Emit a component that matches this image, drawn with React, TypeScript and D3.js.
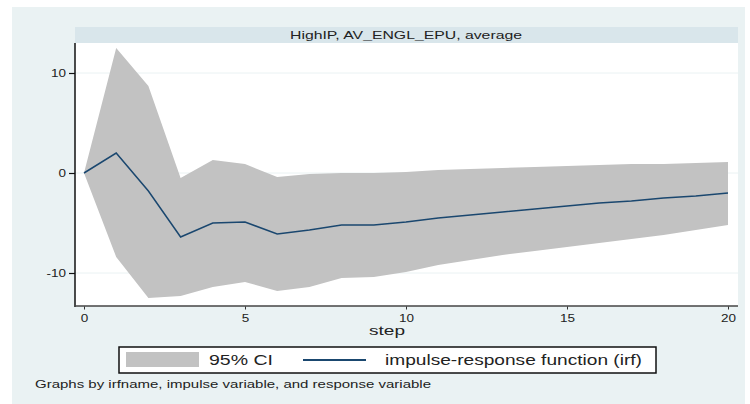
import { useEffect, useRef } from "react";
import { select, scaleLinear, area, line, axisLeft, axisBottom } from "d3";

const W = 750;
const H = 404;

// impulse-response values
const steps = [0, 1, 2, 3, 4, 5, 6, 7, 8, 9, 10, 11, 12, 13, 14, 15, 16, 17, 18, 19, 20];
const irf = [0, 2.0, -1.8, -6.4, -5.0, -4.9, -6.1, -5.7, -5.2, -5.2, -4.9, -4.5, -4.2, -3.9, -3.6, -3.3, -3.0, -2.8, -2.5, -2.3, -2.0];
const ciUpper = [0, 12.5, 8.7, -0.5, 1.3, 0.9, -0.4, -0.1, 0.0, 0.0, 0.1, 0.3, 0.4, 0.5, 0.6, 0.7, 0.8, 0.9, 0.9, 1.0, 1.1];
const ciLower = [0, -8.4, -12.5, -12.3, -11.4, -10.9, -11.8, -11.4, -10.5, -10.4, -9.9, -9.2, -8.7, -8.2, -7.8, -7.4, -7.0, -6.6, -6.2, -5.7, -5.2];

const yTicks = [-10, 0, 10];
const xTicks = [0, 5, 10, 15, 20];

const panelTitle = "HighIP, AV_ENGL_EPU, average";
const xTitle = "step";
const legendCI = "95% CI";
const legendIrf = "impulse-response function (irf)";
const note = "Graphs by irfname, impulse variable, and response variable";

const font = "'Liberation Sans', Arial, Helvetica, sans-serif";

const plot = { left: 75, right: 738, top: 43, bottom: 306 };

const App = () => {
  const svgRef = useRef<SVGSVGElement>(null);

  const xScale = scaleLinear().domain([0, 20]).range([84, 728]);
  const yScale = scaleLinear().domain([-10, 10]).range([273, 73]);

  const band = area<number>()
    .x((d, i) => xScale(steps[i]))
    .y0((d, i) => yScale(ciLower[i]))
    .y1((d) => yScale(d));

  const irfLine = line<number>()
    .x((d, i) => xScale(steps[i]))
    .y((d) => yScale(d));

  useEffect(() => {
    const svg = select(svgRef.current);

    // plain hyphen for negatives, like the original
    const yAxis = axisLeft(yScale)
      .tickValues(yTicks)
      .tickFormat((v) => String(v))
      .tickSize(6)
      .tickPadding(3)
      .tickSizeOuter(0);
    const xAxis = axisBottom(xScale).tickValues(xTicks).tickSize(3).tickPadding(5).tickSizeOuter(0);

    svg.select<SVGGElement>(".y-axis").call(yAxis);
    svg.select<SVGGElement>(".x-axis").call(xAxis);

    svg.selectAll(".y-axis .domain, .x-axis .domain").remove();
    svg
      .selectAll(".y-axis text, .x-axis text")
      .attr("font-family", font)
      .attr("font-size", 10)
      .attr("fill", "#222")
      .attr("class", "sx");
    svg.selectAll(".y-axis line").attr("stroke", "#111").attr("stroke-width", 1.2);
    svg.selectAll(".x-axis line").attr("stroke", "#333");

    // the original picture is horizontally stretched, so widen the tick labels
    svg.selectAll<SVGTextElement, unknown>("text.sx").each(function () {
      this.removeAttribute("textLength");
      const len = this.getComputedTextLength();
      this.setAttribute("textLength", String(len * 1.35));
      this.setAttribute("lengthAdjust", "spacingAndGlyphs");
    });
  }, []);

  return (
    <svg
      ref={svgRef}
      width={W}
      height={H}
      style={{ position: "absolute", left: 0, top: 0, background: "#fff" }}
    >
      <rect x={12} y={7} width={733} height={397} fill="#eaf2f3" />

      {/* panel title strip */}
      <rect x={plot.left} y={27} width={plot.right - plot.left} height={16} fill="#d9e6eb" />
      <text
        x={406}
        y={38.5}
        textAnchor="middle"
        fontFamily={font}
        fontSize={11}
        fill="#222"
        textLength={232}
        lengthAdjust="spacingAndGlyphs"
      >
        {panelTitle}
      </text>

      {/* plot region */}
      <rect x={plot.left} y={plot.top} width={plot.right - plot.left} height={plot.bottom - plot.top} fill="#fff" />
      {yTicks.map((t) => (
        <line key={t} x1={plot.left} x2={plot.right} y1={yScale(t)} y2={yScale(t)} stroke="#eaf2f3" strokeWidth={1} />
      ))}

      <path d={band(ciUpper) ?? ""} fill="#c2c2c2" />
      <path d={irfLine(irf) ?? ""} fill="none" stroke="#1a476f" strokeWidth={1.5} />

      <line x1={plot.left} x2={plot.left} y1={plot.top} y2={plot.bottom + 1} stroke="#111" strokeWidth={1.5} />
      <line x1={plot.left} x2={plot.right} y1={plot.bottom} y2={plot.bottom} stroke="#444" strokeWidth={1.5} />

      <g className="y-axis" transform={`translate(${plot.left},0)`} />
      <g className="x-axis" transform={`translate(0,${plot.bottom + 0.5})`} />

      <text
        x={387}
        y={335}
        textAnchor="middle"
        fontFamily={font}
        fontSize={12.5}
        fill="#222"
        textLength={36}
        lengthAdjust="spacingAndGlyphs"
      >
        {xTitle}
      </text>

      {/* legend */}
      <rect x={119} y={347} width={537} height={26} fill="#fff" stroke="#111" strokeWidth={1.5} />
      <rect x={126} y={352} width={73} height={15} fill="#c2c2c2" />
      <text
        x={209}
        y={365}
        fontFamily={font}
        fontSize={14.5}
        fill="#222"
        textLength={64}
        lengthAdjust="spacingAndGlyphs"
      >
        {legendCI}
      </text>
      <line x1={303} x2={366} y1={360} y2={360} stroke="#1a476f" strokeWidth={2} />
      <text
        x={385}
        y={365}
        fontFamily={font}
        fontSize={14.5}
        fill="#222"
        textLength={257}
        lengthAdjust="spacingAndGlyphs"
      >
        {legendIrf}
      </text>

      <text
        x={35}
        y={388}
        fontFamily={font}
        fontSize={11.5}
        fill="#222"
        textLength={396}
        lengthAdjust="spacingAndGlyphs"
      >
        {note}
      </text>
    </svg>
  );
};

export default App;
